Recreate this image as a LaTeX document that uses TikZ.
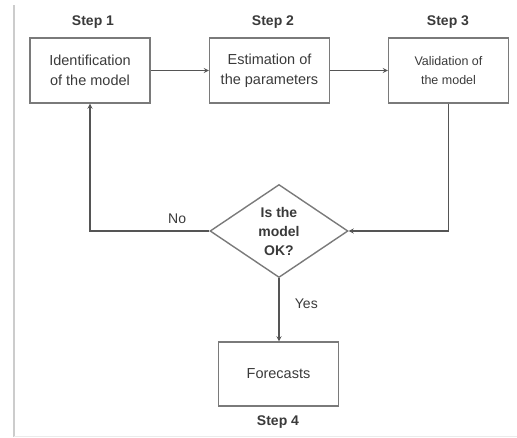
\documentclass[tikz,border=0pt]{standalone}
\usepackage{fontspec}
\setmainfont{Liberation Sans}
\usetikzlibrary{arrows}
\usetikzlibrary{shapes.geometric}
\definecolor{boxgray}{HTML}{7A7A7A}
\definecolor{linegray}{HTML}{555555}
\definecolor{textgray}{HTML}{3A3A3A}
\tikzset{stagebox/.style={draw=boxgray, line width=1.4pt, minimum width=120pt,
  minimum height=65pt, inner sep=0pt, align=center, text=textgray,
  font=\fontsize{14.5}{20}\selectfont}}
\tikzset{steplabel/.style={text=textgray, font=\fontsize{14}{17}\selectfont\bfseries}}
\tikzset{flow/.style={linegray, line width=1.2pt, ->, >=stealth}}

\begin{document}
\begin{tikzpicture}[x=1pt, y=-1pt]
      \useasboundingbox (0, 0) rectangle (517, 437);
      \draw [black!20, line width=2pt] (14, 5) -- (14, 437);
      \draw [black!8, line width=1pt] (14, 436) -- (517, 436);

      \node [stagebox] (ident) at (90, 70.5) {Identification\\of the model};
      \node [stagebox] (estim) at (269.5, 70.5) {Estimation of\\the parameters};
      \node [stagebox, font=\fontsize{12.5}{19}\selectfont] (valid) at (448.5, 70.5) {Validation of\\the model};
      \node [stagebox, minimum height=64pt] (fore) at (278.5, 374) {Forecasts};

      \node [steplabel] (s1) at (93, 22) {Step 1};
      \node [steplabel] (s2) at (273, 22) {Step 2};
      \node [steplabel] (s3) at (448, 22) {Step 3};
      \node [steplabel] (s4) at (278, 422) {Step 4};

      \node [diamond, draw=boxgray, line width=1.4pt, minimum width=138pt,
        minimum height=93pt, inner sep=0pt, align=center, text=textgray,
        font=\fontsize{14}{19}\selectfont\bfseries] (ok) at (279, 231) {Is the\\model\\OK?};

      \draw [flow] (ident) -- (estim);
      \draw [flow] (estim) -- (valid);
      \draw [flow] (valid.south) |- (ok.east);
      \draw [flow] (ok.west) -| node [pos=0.135, above=3pt, text=textgray,
        font=\fontsize{14}{17}\selectfont] (no) {No} (ident.south);
      \draw [flow] (ok.south) -- node [pos=0.4, right=12pt, text=textgray,
        font=\fontsize{14}{17}\selectfont] (yes) {Yes} (fore.north -| ok.south);
    \end{tikzpicture}
\end{document}
